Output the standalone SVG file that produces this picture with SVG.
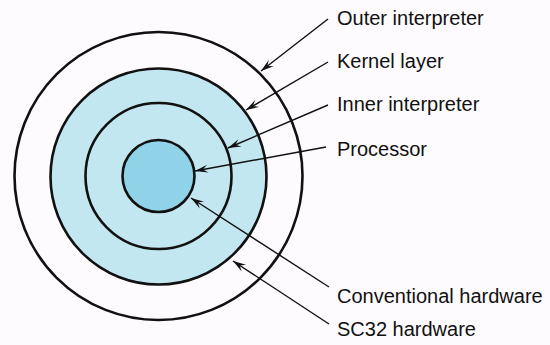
<svg xmlns="http://www.w3.org/2000/svg" width="550" height="345" viewBox="0 0 550 345">
<defs>
<style>
.ring{stroke:#111;stroke-width:2.6}
.lbl{font-family:"Liberation Sans",Arial,sans-serif;font-size:20px;fill:#111}
.con{stroke:#111;stroke-width:1.4;fill:none;marker-end:url(#ah)}
</style>
<marker id="ah" viewBox="-14 -5 15 10" refX="0" refY="0" markerWidth="15" markerHeight="10" markerUnits="userSpaceOnUse" orient="auto">
<path d="M0,0 L-13,-4 L-8,0 L-13,4 Z" fill="#111"/>
</marker>
</defs>
<rect width="550" height="345" fill="#fdfbfd"/>
<g id="sc32-hardware"><circle class="ring" cx="158.5" cy="176" r="144" fill="#fdfbfd"/></g>
<g id="kernel-layer"><circle class="ring" cx="158.5" cy="176.5" r="108" fill="#c2e7f1"/></g>
<g id="inner-interpreter"><circle class="ring" cx="158.5" cy="176" r="73" fill="#c2e7f1"/></g>
<g id="processor"><circle class="ring" cx="158.5" cy="176" r="36" fill="#90d2e8"/></g>
<g id="connectors">
<line class="con" x1="328" y1="19" x2="261" y2="71"/>
<line class="con" x1="328" y1="62" x2="246" y2="110"/>
<line class="con" x1="328" y1="105" x2="228" y2="148"/>
<line class="con" x1="326" y1="147" x2="195" y2="171"/>
<line class="con" x1="329" y1="287" x2="191" y2="198"/>
<line class="con" x1="329" y1="324" x2="233" y2="261"/>
</g>
<g id="labels">
<text class="lbl" x="337" y="25">Outer interpreter</text>
<text class="lbl" x="337" y="68">Kernel layer</text>
<text class="lbl" x="337" y="111">Inner interpreter</text>
<text class="lbl" x="337" y="156">Processor</text>
<text class="lbl" x="337" y="303">Conventional hardware</text>
<text class="lbl" x="337" y="336">SC32 hardware</text>
</g>
</svg>
